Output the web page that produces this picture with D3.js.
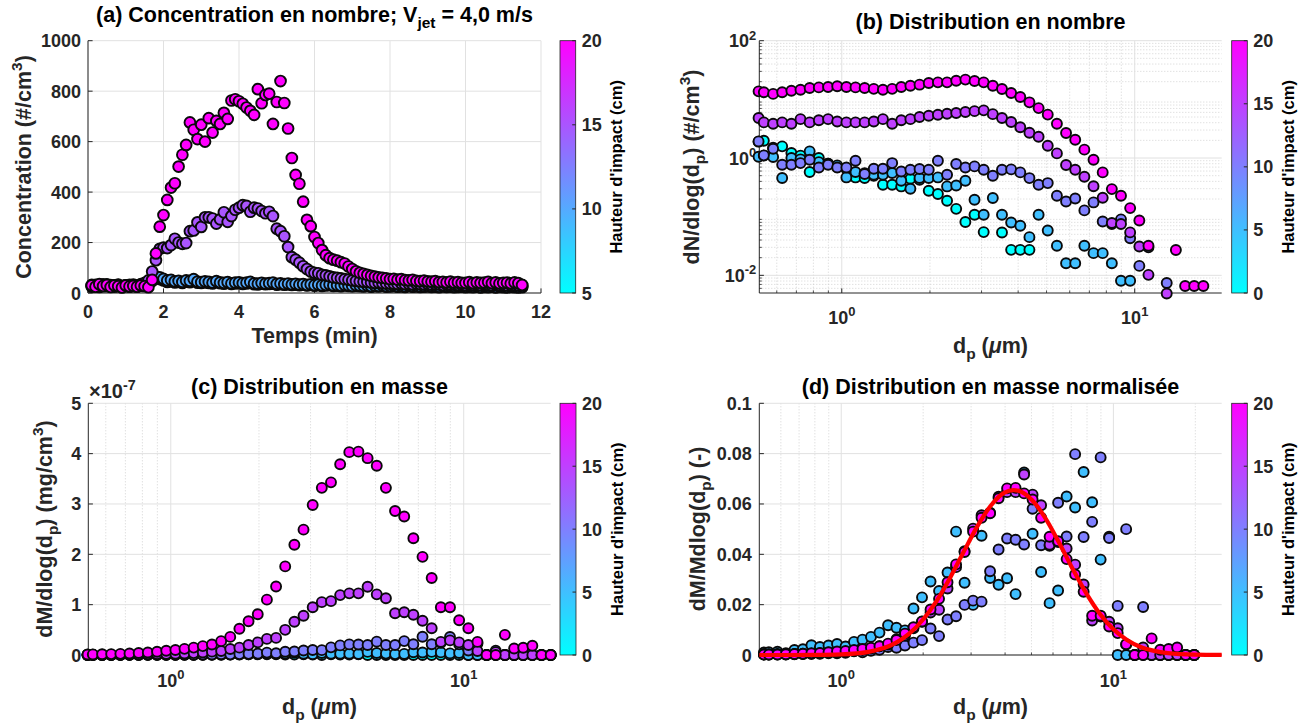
<!DOCTYPE html>
<html><head><meta charset="utf-8">
<script src="https://cdn.jsdelivr.net/npm/d3@7/dist/d3.min.js"></script>
<style>
html,body{margin:0;padding:0;background:#fff;}
svg text{font-family:"Liberation Sans",Arial,Helvetica,sans-serif;font-weight:bold;}
</style></head><body>
<svg id="fig" width="1315" height="728" xmlns="http://www.w3.org/2000/svg"></svg>
<script>
// ================= DATA =================
// (a) time series, concentration (#/cm3) per impact height
const timeMin=[0.1,0.2,0.3,0.4,0.5,0.6,0.7,0.8,0.9,1.0,1.1,1.2,1.3,1.4,1.5,1.6,1.7,1.8,1.9,2.0,2.1,2.2,2.3,2.4,2.5,2.6,2.7,2.8,2.9,3.0,3.1,3.2,3.3,3.4,3.5,3.6,3.7,3.8,3.9,4.0,4.1,4.2,4.3,4.4,4.5,4.6,4.7,4.8,4.9,5.0,5.1,5.2,5.3,5.4,5.5,5.6,5.7,5.8,5.9,6.0,6.1,6.2,6.3,6.4,6.5,6.6,6.7,6.8,6.9,7.0,7.1,7.2,7.3,7.4,7.5,7.6,7.7,7.8,7.9,8.0,8.1,8.2,8.3,8.4,8.5,8.6,8.7,8.8,8.9,9.0,9.1,9.2,9.3,9.4,9.5,9.6,9.7,9.8,9.9,10.0,10.1,10.2,10.3,10.4,10.5,10.6,10.7,10.8,10.9,11.0,11.1,11.2,11.3,11.4,11.5];
const concH20=[30,25,35,28,32,24,30,27,22,30,26,28,25,30,27,23,52,157,263,309,369,418,435,501,548,587,676,647,610,667,600,693,636,682,670,714,690,763,768,760,750,735,722,706,808,752,785,790,670,757,840,753,652,535,468,433,362,290,265,222,198,170,150,138,132,128,122,117,105,95,86,80,76,72,68,65,62,60,58,55,56,53,55,51,50,52,48,47,49,46,45,47,43,44,42,45,41,43,40,40,43,39,42,40,41,44,39,42,38,40,41,38,42,39,32];
const concH15=[32,28,30,34,27,31,29,33,28,30,32,27,30,35,40,50,85,130,175,180,178,190,215,200,195,198,245,248,280,262,300,300,295,275,292,320,282,305,330,338,348,345,322,338,335,325,316,322,305,255,245,225,182,142,132,120,106,95,85,80,78,72,70,66,62,60,58,55,53,50,48,46,45,44,42,40,41,39,38,38,37,36,38,35,36,34,37,35,34,36,33,35,34,32,35,33,34,32,33,31,34,32,33,31,33,32,30,33,31,32,30,32,31,30,31];
const concH10=[28,32,26,30,34,27,29,31,25,30,28,33,27,31,35,40,58,65,62,56,50,52,46,48,44,50,48,55,45,43,46,44,41,47,42,40,43,38,41,42,39,41,44,38,37,40,37,39,41,36,38,35,37,34,36,33,35,32,34,31,33,30,32,34,30,31,29,32,30,28,31,29,28,30,27,29,28,30,27,28,29,27,28,26,29,27,28,26,27,28,26,27,25,28,26,27,25,26,27,25,26,25,27,24,26,25,27,24,26,25,24,26,25,24,25];
const concH5=[25,28,24,27,30,26,25,28,24,27,25,29,26,28,30,35,48,60,55,50,44,46,42,44,40,45,43,48,41,40,42,40,38,43,39,37,40,36,38,39,36,38,40,35,34,37,35,36,37,33,35,33,34,32,33,31,33,30,32,29,31,28,30,31,28,29,27,30,28,27,28,27,26,28,25,27,26,28,25,26,27,25,26,24,27,25,26,24,25,26,24,25,23,26,24,25,23,24,25,23,24,23,25,22,24,23,25,22,24,23,22,24,23,22,23];
const heightsA=[5,10,15,20];

// particle diameter channels (um)
const dpUm=[0.52,0.542,0.583,0.626,0.673,0.723,0.777,0.835,0.898,0.965,1.037,1.114,1.197,1.286,1.382,1.486,1.596,1.715,1.843,1.981,2.129,2.288,2.458,2.642,2.839,3.051,3.278,3.523,3.786,4.068,4.371,4.698,5.048,5.425,5.829,6.264,6.732,7.234,7.774,8.354,8.977,9.647,10.37,11.14,11.97,12.86,13.82,14.86,15.96,17.15,18.43,19.81];

// (b) dN/dlog(dp) (#/cm3)
const dN_H20=[13.7,13.2,12.4,13.2,14.0,14.6,15.6,16.0,16.2,16.7,16.2,16.0,15.6,15.1,14.6,15.1,16.2,17.1,17.8,19.0,19.5,19.5,20.8,21.7,20.5,19.5,17.1,15.0,12.8,11.0,8.9,7.1,5.5,3.85,2.67,2.05,1.39,0.935,0.569,0.295,0.227,0.14,0.086,0.032,0,0,0.027,0.0066,0.0066,0.0066,0,0];
const dN_H15=[4.8,4.05,3.85,4.05,3.85,4.6,4.05,4.4,4.6,4.2,4.05,4.05,4.05,4.2,4.6,3.85,4.4,4.6,5.0,5.27,5.48,5.7,5.86,6.1,6.3,6.5,5.6,4.8,4.1,3.35,2.7,2.3,1.62,1.2,0.76,0.63,0.48,0.33,0.21,0.078,0.075,0.054,0.031,0.0102,0,0.0049,0,0,0,0,0,0];
const dN_H10=[1.92,1.11,1.44,0.77,0.77,0.82,0.935,0.69,0.77,0.69,0.69,0.90,0.533,0.657,0.657,0.82,0.59,0.63,0.65,0.63,0.90,0.52,0.79,0.69,0.72,0.631,0.499,0.631,0.64,0.569,0.455,0.35,0.374,0.227,0.182,0.204,0.128,0.175,0.083,0.075,0.09,0.043,0.0145,0.03,0,0.0074,0,0,0,0,0,0];
const dN_H5=[1.05,1.1,1.04,0.456,1.0,0.95,1.30,0.85,0.8,0.75,0.467,0.576,0.55,0.52,0.52,0.554,0.41,0.299,0.456,0.456,0.467,0.328,0.341,0.41,0.194,0.108,0.208,0.108,0.0795,0.070,0.0448,0.108,0.058,0.0319,0.0161,0.0161,0.0319,0.0239,0.0239,0.0161,0.0081,0.0081,0,0,0,0,0,0,0,0,0,0];
const dN_H0=[1.9,1.97,1.5,1.58,1.22,1.1,0.576,1.0,0.8,0.7,0.65,0.467,0.456,0.5,0.35,0.35,0.328,0.443,0.426,0.277,0.243,0.187,0.136,0.081,0.108,0.0546,0,0.0538,0.0272,0.0272,0.0272,0,0,0,0,0,0,0,0,0,0,0,0,0,0,0,0,0,0,0,0,0];

// (c) dM/dlog(dp) in units of 1e-7 mg/cm3
const dM_H20=[0.011,0.012,0.014,0.018,0.023,0.03,0.04,0.051,0.065,0.083,0.1,0.122,0.147,0.177,0.21,0.275,0.36,0.52,0.67,0.81,1.1,1.36,1.76,2.19,2.49,2.98,3.32,3.43,3.79,4.03,4.04,3.91,3.76,3.32,2.86,2.75,2.32,1.95,1.53,0.95,0.95,0.69,0.53,0.26,0,0,0.40,0.13,0.145,0.185,0,0];
const dM_H15=[0.004,0.004,0.004,0.006,0.007,0.01,0.01,0.014,0.018,0.021,0.025,0.031,0.038,0.049,0.067,0.08,0.12,0.146,0.2,0.25,0.32,0.34,0.5,0.66,0.78,0.95,1.05,1.07,1.19,1.225,1.225,1.357,1.205,1.126,0.83,0.85,0.80,0.68,0.53,0.26,0.29,0.25,0.2,0.08,0,0.057,0,0,0,0,0,0];
const dM_H10=[0.0015,0.001,0.0016,0.001,0.0013,0.0017,0.0024,0.0022,0.0031,0.0034,0.0042,0.0068,0.005,0.0077,0.0095,0.0148,0.0132,0.0175,0.0224,0.0269,0.0478,0.0343,0.0645,0.07,0.0906,0.0986,0.0967,0.152,0.191,0.211,0.209,0.2,0.265,0.199,0.198,0.276,0.215,0.364,0.214,0.241,0.358,0.212,0.089,0.228,0,0.087,0,0,0,0,0,0];
const dM_H5=[0.0008,0.001,0.0011,0.0006,0.0017,0.002,0.0034,0.0027,0.0032,0.0037,0.0029,0.0044,0.0052,0.0061,0.0076,0.01,0.0092,0.0083,0.0157,0.0195,0.0248,0.0216,0.0279,0.0416,0.0244,0.0169,0.0403,0.026,0.0237,0.0259,0.0206,0.0616,0.041,0.028,0.0175,0.0218,0.0535,0.0498,0.0618,0.0516,0.0322,0.04,0,0,0,0,0,0,0,0,0,0];
const dM_H0=[0.0015,0.0017,0.0016,0.0021,0.002,0.0023,0.0015,0.0032,0.0032,0.0035,0.004,0.0036,0.0043,0.0058,0.0051,0.0063,0.0073,0.0123,0.0147,0.0118,0.0129,0.0123,0.0111,0.0082,0.0136,0.0085,0,0.0129,0.0081,0.0101,0.0125,0,0,0,0,0,0,0,0,0,0,0,0,0,0,0,0,0,0,0,0,0];

// (d) normalised dM/M dlog(dp) (-)
const dMn_H20=[0.0002,0.0002,0.0002,0.0003,0.0004,0.0005,0.0007,0.0008,0.0011,0.0014,0.0016,0.002,0.0024,0.0029,0.0035,0.0045,0.0059,0.0085,0.011,0.0133,0.0181,0.0223,0.0289,0.036,0.0409,0.049,0.0545,0.0563,0.0623,0.0662,0.0664,0.0642,0.0618,0.0545,0.047,0.0452,0.0381,0.032,0.0251,0.0156,0.0156,0.0113,0.0087,0.0043,0,0,0.0066,0.0021,0.0024,0.003,0,0];
const dMn_H15=[0.0002,0.0002,0.0002,0.0003,0.0004,0.0005,0.0005,0.0007,0.001,0.0011,0.0013,0.0016,0.002,0.0026,0.0035,0.0042,0.0063,0.0077,0.0106,0.0132,0.0169,0.018,0.0264,0.0349,0.0412,0.0502,0.0555,0.0565,0.0629,0.0647,0.0647,0.0717,0.0637,0.0595,0.0438,0.0449,0.0423,0.0359,0.028,0.0137,0.0153,0.0132,0.0106,0.0042,0,0.003,0,0,0,0,0,0];
const dMn_H10=[0.0003,0.0002,0.0004,0.0002,0.0003,0.0004,0.0005,0.0005,0.0007,0.0007,0.0009,0.0015,0.0011,0.0017,0.0021,0.0032,0.0029,0.0038,0.0049,0.0059,0.0105,0.0075,0.0141,0.0154,0.0199,0.0216,0.0212,0.0333,0.0419,0.0463,0.0458,0.0439,0.0581,0.0436,0.0434,0.0605,0.0471,0.0798,0.0469,0.0529,0.0785,0.0465,0.0195,0.05,0,0.0191,0,0,0,0,0,0];
const dMn_H5=[0.001,0.0011,0.0013,0.0007,0.002,0.0023,0.0039,0.0032,0.0038,0.0044,0.0034,0.0052,0.0061,0.0072,0.0089,0.0118,0.0108,0.0098,0.0185,0.0229,0.0292,0.0254,0.0328,0.049,0.0287,0.0199,0.0474,0.0306,0.0279,0.0305,0.0242,0.0725,0.0482,0.033,0.0206,0.0256,0.063,0.0586,0.0727,0.0607,0.0379,0.047,0,0,0,0,0,0,0,0,0,0];
// log-normal fit (red curve)
const fitDpUm=[0.5,0.631,0.794,1.0,1.259,1.585,1.778,1.995,2.239,2.512,2.818,3.162,3.548,3.981,4.305,4.467,5.012,5.623,6.310,7.079,7.943,8.913,10.0,11.22,12.59,14.13,15.85,19.95,25.0];
const fitValue=[0.0,0.000004,0.00004,0.00025,0.00126,0.00482,0.0085,0.0140,0.0214,0.0307,0.0410,0.0511,0.0594,0.0645,0.0655,0.0653,0.0617,0.0544,0.0447,0.0343,0.0246,0.0164,0.0102,0.0060,0.0032,0.00164,0.00077,0.00014,0.00002];

// ticks
const ticksTime=[0,2,4,6,8,10,12];
const ticksConc=[0,200,400,600,800,1000];
const ticksDp=[1,10];
const ticksDN=[0.01,1,100];
const ticksMass=[0,1,2,3,4,5];
const ticksNorm=[0,0.02,0.04,0.06,0.08,0.1];
const ticksCbarA=[5,10,15,20];
const ticksCbarB=[0,5,10,15,20];

// ================= DRAWING =================
const svg=d3.select("#fig");
const AX="#262626";
const coolMap=d3.interpolateRgb("#00ffff","#ff00ff");
const defs=svg.append("defs");
const grad=defs.append("linearGradient").attr("id","cool").attr("x1",0).attr("y1",1).attr("x2",0).attr("y2",0);
grad.append("stop").attr("offset","0%").attr("stop-color","#00ffff");
grad.append("stop").attr("offset","100%").attr("stop-color","#ff00ff");

function rich(sel, parts, fs){
  let off=0;
  parts.forEach(([s,m])=>{
    const target = m==="sup"? -0.42*fs : (m==="sub"? 0.30*fs : 0);
    const ts=sel.append("tspan").text(s).attr("dy",target-off);
    if(m==="sup"||m==="sub") ts.attr("font-size",0.72*fs);
    if(m==="it") ts.attr("font-style","italic");
    off=target;
  });
}
function minorLog(lo,hi){
  const out=[];
  for(let k=Math.floor(Math.log10(lo));k<=Math.ceil(Math.log10(hi));k++)
    for(let m=2;m<=9;m++){const v=m*Math.pow(10,k); if(v>lo&&v<hi) out.push(v);}
  return out;
}
const TF=18, LF=21.5;
const linFmt=(t,v)=>t.text(String(v));
const logFmt=(t,v)=>rich(t,[["10",""],[String(Math.round(Math.log10(v))),"sup"]],TF);

function frame(xs,ys,o){
  const g=svg.append("g");
  const [L,R]=xs.range(), [B,T]=ys.range();
  const vl=(x,c,w,d)=>g.append("line").attr("x1",x).attr("x2",x).attr("y1",T).attr("y2",B).attr("stroke",c).attr("stroke-width",w).attr("stroke-dasharray",d||null);
  const hl=(y,c,w,d)=>g.append("line").attr("x1",L).attr("x2",R).attr("y1",y).attr("y2",y).attr("stroke",c).attr("stroke-width",w).attr("stroke-dasharray",d||null);
  (o.xMinor||[]).forEach(v=>vl(xs(v),"#c9c9c9",0.8,"1,2"));
  (o.yMinor||[]).forEach(v=>hl(ys(v),"#c9c9c9",0.8,"1,2"));
  o.xTicks.forEach(v=>vl(xs(v),"#e1e1e1",1));
  o.yTicks.forEach(v=>hl(ys(v),"#e1e1e1",1));
  g.append("line").attr("x1",L).attr("x2",L).attr("y1",T).attr("y2",B).attr("stroke",AX).attr("stroke-width",1);
  g.append("line").attr("x1",L).attr("x2",R).attr("y1",B).attr("y2",B).attr("stroke",AX).attr("stroke-width",1);
  o.xTicks.forEach(v=>g.append("line").attr("x1",xs(v)).attr("x2",xs(v)).attr("y1",B).attr("y2",B-4.6).attr("stroke",AX));
  (o.xMinor||[]).forEach(v=>g.append("line").attr("x1",xs(v)).attr("x2",xs(v)).attr("y1",B).attr("y2",B-2.5).attr("stroke",AX).attr("stroke-width",0.8));
  o.yTicks.forEach(v=>g.append("line").attr("x1",L).attr("x2",L+4.6).attr("y1",ys(v)).attr("y2",ys(v)).attr("stroke",AX));
  (o.yMinor||[]).forEach(v=>g.append("line").attr("x1",L).attr("x2",L+2.5).attr("y1",ys(v)).attr("y2",ys(v)).attr("stroke",AX).attr("stroke-width",0.8));
  o.xTicks.forEach(v=>{const t=g.append("text").attr("x",xs(v)).attr("y",B+o.xDy).attr("text-anchor","middle").attr("font-size",TF).attr("fill",AX); o.xFmt(t,v);});
  o.yTicks.forEach(v=>{const t=g.append("text").attr("x",L-o.yDx).attr("y",ys(v)+6.5).attr("text-anchor","end").attr("font-size",TF).attr("fill",AX); o.yFmt(t,v);});
  return g;
}
function dots(xs,ys,xv,yv,color,r,logY){
  const data=xv.map((x,i)=>[x,yv[i]]).filter(d=>d[1]!=null&&(!logY||d[1]>0));
  svg.append("g").selectAll("circle").data(data).enter().append("circle")
    .attr("cx",d=>xs(d[0])).attr("cy",d=>ys(d[1])).attr("r",r)
    .attr("fill",color).attr("stroke","#0a0a0a").attr("stroke-width",1.9);
}
function colorbar(x0,x1,y0,y1,lo,hi,ticks,labX){
  const g=svg.append("g");
  g.append("rect").attr("x",x0).attr("y",y0).attr("width",x1-x0).attr("height",y1-y0).attr("fill","url(#cool)").attr("stroke",AX).attr("stroke-width",0.8);
  const s=d3.scaleLinear().domain([lo,hi]).range([y1,y0]);
  ticks.forEach(v=>{
    g.append("line").attr("x1",x1).attr("x2",x1-3.5).attr("y1",s(v)).attr("y2",s(v)).attr("stroke",AX);
    g.append("text").attr("x",x1+6).attr("y",s(v)+6.5).attr("font-size",TF).attr("fill",AX).text(v);
  });
  g.append("text").attr("transform",`translate(${labX},${(y0+y1)/2}) rotate(-90)`).attr("text-anchor","middle").attr("font-size",16.5).attr("fill","#000").text("Hauteur d'impact (cm)");
}
function title(x,y,parts){const t=svg.append("text").attr("x",x).attr("y",y).attr("text-anchor","middle").attr("font-size",LF).attr("fill","#000"); rich(t,parts,LF);}
function xlabel(x,y,parts){const t=svg.append("text").attr("x",x).attr("y",y).attr("text-anchor","middle").attr("font-size",LF).attr("fill",AX); rich(t,parts,LF);}
function ylabel(x,y,parts){const t=svg.append("text").attr("transform",`translate(${x},${y}) rotate(-90)`).attr("text-anchor","middle").attr("font-size",LF).attr("fill",AX); rich(t,parts,LF);}
const dpLabel=[["d",""],["p","sub"],[" (",""],["\u03bc","it"],["m)",""]];

// ---------- panel (a) ----------
{
  const xs=d3.scaleLinear().domain([0,12]).range([88,541]);
  const ys=d3.scaleLinear().domain([0,1000]).range([293,40.7]);
  frame(xs,ys,{xTicks:ticksTime,yTicks:ticksConc,xFmt:linFmt,yFmt:linFmt,xDy:25,yDx:7});
  const series=[concH5,concH10,concH15,concH20];
  series.forEach((s,i)=>dots(xs,ys,timeMin,s,coolMap((heightsA[i]-5)/15),5.4,false));
  colorbar(560,575.7,40.7,293,5,20,ticksCbarA,621.5);
  title(314.5,22,[["(a) Concentration en nombre; V",""],["jet","sub"],[" = 4,0 m/s",""]]);
  xlabel(314.5,343,[["Temps (min)",""]]);
  ylabel(31,167,[["Concentration (#/cm",""],["3","sup"],[")",""]]);
}
// ---------- panel (b) ----------
{
  const xs=d3.scaleLog().domain([0.523,19.81]).range([759.3,1221.7]);
  const ys=d3.scaleLog().domain([0.005,100]).range([293,40.7]);
  frame(xs,ys,{xTicks:ticksDp,yTicks:ticksDN,xMinor:minorLog(0.523,19.81),yMinor:minorLog(0.005,100),xFmt:logFmt,yFmt:logFmt,xDy:31,yDx:3});
  [[dN_H0,0],[dN_H5,5],[dN_H10,10],[dN_H15,15],[dN_H20,20]].forEach(([s,h])=>dots(xs,ys,dpUm,s,coolMap(h/20),5.0,true));
  colorbar(1231.7,1247.3,40.7,293,0,20,ticksCbarB,1294);
  title(990.5,29,[["(b) Distribution en nombre",""]]);
  xlabel(990.5,353,dpLabel);
  ylabel(699,167,[["dN/dlog(d",""],["p","sub"],[") (#/cm",""],["3","sup"],[")",""]]);
}
// ---------- panel (c) ----------
{
  const xs=d3.scaleLog().domain([0.523,19.81]).range([88.3,550.7]);
  const ys=d3.scaleLinear().domain([0,5]).range([655,403.3]);
  frame(xs,ys,{xTicks:ticksDp,yTicks:ticksMass,xMinor:minorLog(0.523,19.81),xFmt:logFmt,yFmt:linFmt,xDy:32,yDx:7});
  [[dM_H0,0],[dM_H5,5],[dM_H10,10],[dM_H15,15],[dM_H20,20]].forEach(([s,h])=>dots(xs,ys,dpUm,s,coolMap(h/20),5.0,false));
  colorbar(560,576,403.3,655,0,20,ticksCbarB,623);
  title(319.5,394,[["(c) Distribution en masse",""]]);
  xlabel(319.5,714,dpLabel);
  ylabel(52,529,[["dM/dlog(d",""],["p","sub"],[") (mg/cm",""],["3","sup"],[")",""]]);
  const t=svg.append("text").attr("x",89).attr("y",398).attr("font-size",20).attr("fill",AX);
  rich(t,[["\u00d710",""],["-7","sup"]],20);
}
// ---------- panel (d) ----------
{
  const xs=d3.scaleLog().domain([0.5,25]).range([759.3,1221.7]);
  const ys=d3.scaleLinear().domain([0,0.1]).range([655,403.3]);
  frame(xs,ys,{xTicks:ticksDp,yTicks:ticksNorm,xMinor:minorLog(0.5,25),xFmt:logFmt,yFmt:linFmt,xDy:32,yDx:7.5});
  [[dMn_H5,5],[dMn_H10,10],[dMn_H15,15],[dMn_H20,20]].forEach(([s,h])=>dots(xs,ys,dpUm,s,coolMap(h/20),5.0,false));
  const line=d3.line().x((d,i)=>xs(fitDpUm[i])).y(d=>ys(d)).curve(d3.curveMonotoneX);
  svg.append("path").attr("d",line(fitValue)).attr("fill","none").attr("stroke","#ff0000").attr("stroke-width",4.2).attr("stroke-linejoin","round");
  colorbar(1231.7,1247.3,403.3,655,0,20,ticksCbarB,1294);
  title(990.5,394,[["(d) Distribution en masse normalis\u00e9e",""]]);
  xlabel(990.5,714,dpLabel);
  ylabel(705,529,[["dM/Mdlog(d",""],["p","sub"],[") (-)",""]]);
}
</script>
</body></html>
